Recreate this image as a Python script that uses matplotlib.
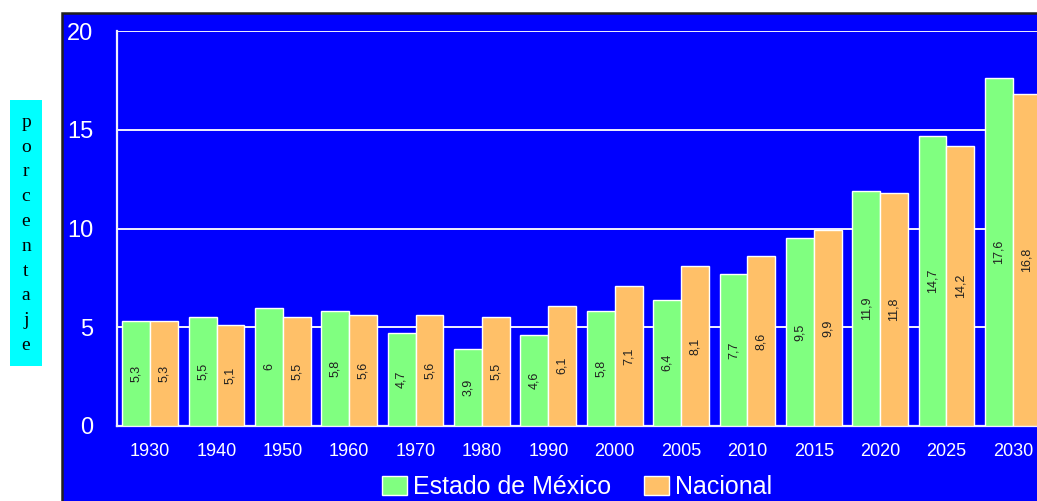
import numpy as np
import matplotlib.pyplot as plt
from matplotlib.patches import Rectangle

plt.rcParams['font.family'] = ['Liberation Sans', 'DejaVu Sans']

years = ['1930', '1940', '1950', '1960', '1970', '1980', '1990',
         '2000', '2005', '2010', '2015', '2020', '2025', '2030']
estado = [5.3, 5.5, 6, 5.8, 4.7, 3.9, 4.6, 5.8, 6.4, 7.7, 9.5, 11.9, 14.7, 17.6]
nacional = [5.3, 5.1, 5.5, 5.6, 5.6, 5.5, 6.1, 7.1, 8.1, 8.6, 9.9, 11.8, 14.2, 16.8]

W, H = 1037, 501
fig = plt.figure(figsize=(W / 100, H / 100), dpi=100)
fig.patch.set_facecolor('white')

# blue panel with dark border on top/left, running off the right and bottom edges
panel = Rectangle((62 / W, -0.05), 1.1, 1 - 13 / H + 0.05, transform=fig.transFigure,
                  facecolor='#0000FF', edgecolor='#202020', linewidth=1.8, zorder=-5)
fig.patches.append(panel)

ax = fig.add_axes([117 / W, 1 - 426 / H, (1046 - 117) / W, (426 - 31) / H])
ax.set_facecolor('#0000FF')

x = np.arange(len(years))
bw = 0.42
b1 = ax.bar(x - bw / 2, estado, bw, color='#80FF80', edgecolor='white',
            linewidth=1.0, label='Estado de México', zorder=3)
b2 = ax.bar(x + bw / 2, nacional, bw, color='#FFC068', edgecolor='white',
            linewidth=1.0, label='Nacional', zorder=3)


def fmt(v):
    s = ('%g' % v)
    return s.replace('.', ',')


for xs, vals in ((x - bw / 2, estado), (x + bw / 2, nacional)):
    for xi, v in zip(xs, vals):
        ax.text(xi, v / 2, fmt(v), rotation=90, ha='center', va='center',
                fontsize=9, color='#202020', zorder=4)

ax.set_xlim(-0.5, len(years) - 0.5)
ax.set_ylim(0, 20)
ax.set_yticks([0, 5, 10, 15, 20])
ax.set_xticks(x)
ax.set_xticklabels(years)
ax.tick_params(axis='y', length=0, pad=17, labelsize=17, labelcolor='white')
ax.tick_params(axis='x', length=0, pad=12, labelsize=13, labelcolor='white')
ax.yaxis.grid(True, color='#F0F0FF', linewidth=1.4, zorder=1)
ax.set_axisbelow(True)
for side in ('top', 'right'):
    ax.spines[side].set_visible(False)
for side in ('left', 'bottom'):
    ax.spines[side].set_color('#F0F0FF')
    ax.spines[side].set_linewidth(1.6)

leg = fig.legend(handles=[b1, b2], loc='center', ncol=2,
                 bbox_to_anchor=(577 / W, 1 - 487 / H), frameon=False,
                 fontsize=18, handlelength=1.0, handleheight=0.8,
                 handletextpad=0.25, columnspacing=1.3, borderaxespad=0)
for t in leg.get_texts():
    t.set_color('white')

# vertical axis caption in a cyan box
fig.patches.append(Rectangle((10 / W, 1 - 366 / H), 32 / W, 266 / H,
                             transform=fig.transFigure, facecolor='#00FFFF',
                             edgecolor='none', zorder=-4))
fig.text(26 / W, 1 - 234 / H, '\n'.join('porcentaje'), ha='center', va='center',
         family='Liberation Serif', fontsize=14, linespacing=1.6, color='black')

fig.savefig('out.png', dpi=100)
